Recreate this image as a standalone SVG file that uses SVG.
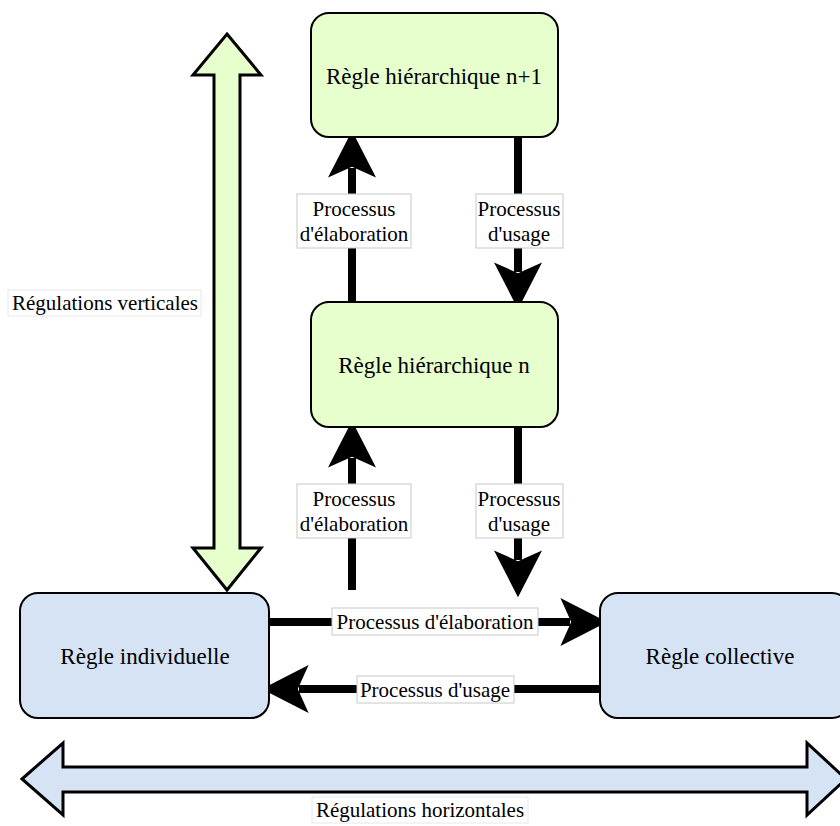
<svg xmlns="http://www.w3.org/2000/svg" width="840" height="826" viewBox="0 0 840 826">
<style>
.txt{font-family:"Liberation Serif","Times New Roman",serif;fill:#000;text-anchor:middle;dominant-baseline:central}
.node{font-size:23px}
.lbl{font-size:21px}
.lbox{fill:#fff;stroke:#c8c8c8;stroke-width:1}
.conn{stroke:#000;stroke-width:8;fill:none}
.green{fill:#e6ffcc;stroke:#000;stroke-width:2}
.blue{fill:#d6e3f5;stroke:#000;stroke-width:2}
.big{stroke:#000;stroke-width:3;stroke-linejoin:miter}
</style>
<defs>
<marker id="ah" markerUnits="userSpaceOnUse" markerWidth="60" markerHeight="60" viewBox="-10 -25 45 50" refX="0" refY="0" orient="auto">
<path d="M31,0 L-8,-20 L1,0 L-8,20 Z" fill="#000"/>
</marker>
</defs>
<rect width="840" height="826" fill="#fff"/>

<g id="vertical-regulation">
<polygon class="big" fill="#e6ffcc" points="227,34 261,75 240,75 240,548 261,548 227,590 193,548 214,548 214,75 193,75"/>
<rect class="lbox" x="8" y="290" width="193" height="26" style="stroke:#e8e8e8"/>
<text class="txt lbl" x="105" y="303">Régulations verticales</text>
</g>

<g id="horizontal-regulation">
<polygon class="big" fill="#d6e3f5" points="22,779 63,743 63,767 807,767 807,743 846,779 807,815 807,792 63,792 63,815"/>
<rect class="lbox" x="312" y="797" width="216" height="26" style="stroke:#e8e8e8"/>
<text class="txt lbl" x="420" y="810">Régulations horizontales</text>
</g>

<g id="connectors">
<line class="conn" x1="352" y1="302" x2="352" y2="168" marker-end="url(#ah)"/>
<line class="conn" x1="518" y1="137" x2="518" y2="272" marker-end="url(#ah)"/>
<line class="conn" x1="352" y1="590" x2="352" y2="458" marker-end="url(#ah)"/>
<line class="conn" x1="518" y1="427" x2="518" y2="560" marker-end="url(#ah)"/>
<line class="conn" x1="269" y1="622" x2="570" y2="622" marker-end="url(#ah)"/>
<line class="conn" x1="600" y1="689" x2="299" y2="689" marker-end="url(#ah)"/>
<rect class="lbox" x="297" y="194" width="114" height="54"/>
<text class="txt lbl" x="354" y="209">Processus</text>
<text class="txt lbl" x="354" y="234">d'élaboration</text>
<rect class="lbox" x="476" y="194" width="87" height="54"/>
<text class="txt lbl" x="519" y="209">Processus</text>
<text class="txt lbl" x="519" y="234">d'usage</text>
<rect class="lbox" x="297" y="484" width="114" height="54"/>
<text class="txt lbl" x="354" y="499">Processus</text>
<text class="txt lbl" x="354" y="524">d'élaboration</text>
<rect class="lbox" x="476" y="484" width="87" height="54"/>
<text class="txt lbl" x="519" y="499">Processus</text>
<text class="txt lbl" x="519" y="524">d'usage</text>
<rect class="lbox" x="332" y="608" width="206" height="27"/>
<text class="txt lbl" x="435" y="622">Processus d'élaboration</text>
<rect class="lbox" x="357" y="676" width="157" height="27"/>
<text class="txt lbl" x="435" y="690">Processus d'usage</text>
</g>

<g id="node-n1">
<rect class="green" x="311" y="13" width="247" height="124" rx="18"/>
<text class="txt node" x="434" y="76">Règle hiérarchique n+1</text>
</g>
<g id="node-n">
<rect class="green" x="311" y="302" width="247" height="125" rx="18"/>
<text class="txt node" x="434" y="365">Règle hiérarchique n</text>
</g>
<g id="node-individuelle">
<rect class="blue" x="20" y="593" width="249" height="125" rx="18"/>
<text class="txt node" x="145" y="656">Règle individuelle</text>
</g>
<g id="node-collective">
<rect class="blue" x="600" y="593" width="250" height="125" rx="18"/>
<text class="txt node" x="720" y="656">Règle collective</text>
</g>
</svg>
